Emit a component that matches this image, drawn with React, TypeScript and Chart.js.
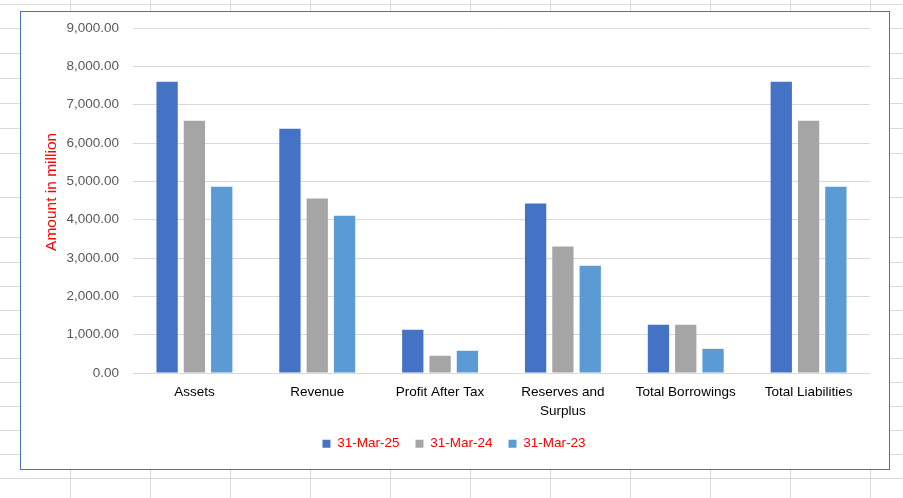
import React, { useEffect, useRef } from "react";
import { Chart, registerables } from "chart.js";

Chart.register(...registerables);

const categories: (string | string[])[] = [
  "Assets",
  "Revenue",
  "Profit After Tax",
  ["Reserves and", "Surplus"],
  "Total Borrowings",
  "Total Liabilities",
];
const seriesNames = ["31-Mar-25", "31-Mar-24", "31-Mar-23"];
const mar25 = [7600, 6370, 1130, 4420, 1260, 7600];
const mar24 = [6580, 4550, 450, 3300, 1260, 6580];
const mar23 = [4860, 4100, 580, 2800, 630, 4860];
const seriesColors = ["#4472C4", "#A5A5A5", "#5B9BD5"];
const yMin = 0;
const yMax = 9000;
const yStep = 1000;
const yTitle = "    Amount in million";

// spreadsheet background decoration
const sheetRows = [4, 28, 53, 78, 103, 128, 153, 197, 237, 262, 286, 310, 334, 358, 382, 406, 430, 454, 478];
const sheetCols = [70, 150, 230, 310, 390, 470, 550, 630, 710, 790, 870];

const FONT = "'Liberation Sans', Arial, sans-serif";

export default function App() {
  const canvasRef = useRef<HTMLCanvasElement | null>(null);

  useEffect(() => {
    document.body.style.margin = "0";
    const canvas = canvasRef.current;
    if (!canvas) return;
    const chart = new Chart(canvas, {
      type: "bar",
      data: {
        labels: categories,
        datasets: [mar25, mar24, mar23].map((d, i) => ({
          label: seriesNames[i],
          data: d,
          backgroundColor: seriesColors[i],
          borderWidth: 0,
          categoryPercentage: 0.667,
          barPercentage: 0.78,
        })),
      },
      options: {
        animation: false,
        responsive: false,
        devicePixelRatio: 1,
        layout: { padding: { left: 38, right: 33, top: 28, bottom: 37.5 } },
        plugins: {
          legend: {
            position: "bottom",
            labels: {
              boxWidth: 8,
              boxHeight: 8,
              color: "#FF0000",
              padding: 16,
              font: { size: 13.5, family: FONT },
            },
          },
          tooltip: { enabled: false },
        },
        scales: {
          x: {
            grid: { display: false },
            border: { display: false },
            ticks: {
              color: "#000000",
              padding: 2,
              maxRotation: 0,
              autoSkip: false,
              font: { size: 13.5, family: FONT, lineHeight: 1.4 },
            },
            afterFit: (s: any) => {
              s.height = 48;
            },
          },
          y: {
            min: yMin,
            max: yMax,
            border: { display: false },
            grid: { color: "#D9D9D9", drawTicks: false, lineWidth: 1 },
            ticks: {
              stepSize: yStep,
              padding: 14,
              color: "#595959",
              font: { size: 13.5, family: FONT },
              callback: (v: any) =>
                Number(v).toLocaleString("en-US", { minimumFractionDigits: 2, maximumFractionDigits: 2 }),
            },
            title: {
              display: true,
              text: yTitle,
              color: "#FF0000",
              font: { size: 15.5, family: FONT },
            },
            afterFit: (s: any) => {
              s.width = 95;
            },
          },
        },
      },
    });
    return () => chart.destroy();
  }, []);

  return (
    <div style={{ position: "fixed", left: 0, top: 0, width: 903, height: 498, background: "#fff", overflow: "hidden" }}>
      {sheetRows.map((y) => (
        <div key={"r" + y} style={{ position: "absolute", left: 0, top: y, width: 903, height: 1, background: "#DADADA" }} />
      ))}
      {sheetCols.map((x) => (
        <div key={"c" + x} style={{ position: "absolute", left: x, top: 0, width: 1, height: 498, background: "#DADADA" }} />
      ))}
      <div
        style={{
          position: "absolute",
          left: 20,
          top: 11,
          width: 870,
          height: 459,
          boxSizing: "border-box",
          border: "1px solid #4472C4",
          background: "#fff",
        }}
      />
      <canvas ref={canvasRef} width={903} height={498} style={{ position: "absolute", left: 0, top: 0 }} />
    </div>
  );
}
